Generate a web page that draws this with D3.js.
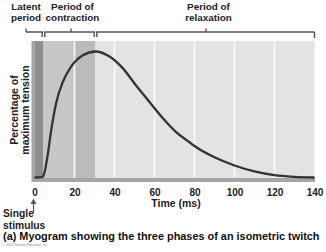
<!DOCTYPE html>
<html>
<head>
<meta charset="UTF-8">
<script src="https://d3js.org/d3.v7.min.js"></script>
<style>
  * { margin: 0; padding: 0; }
  body { background: #fff; width: 326px; height: 252px; overflow: hidden; }
  svg { display: block; font-family: 'Liberation Sans', Arial, Helvetica, sans-serif; font-weight: bold; }
</style>
</head>
<body>
<svg id="chart" width="326" height="252"></svg>
<script>
// curve (ms, % of max tension)
const timeMs  = [0, 4, 5, 6.7, 8.3, 10.8, 14.2, 18.3, 24.2, 30.5, 37.5, 44.2, 50.8, 57.5, 64.2, 70.8, 77.5, 80, 90, 100, 110, 120, 130, 140];
const tension = [0, 0.3, 4, 19, 37, 59, 76, 88, 97, 100, 96, 86.6, 73, 60, 47, 36, 28, 25, 16, 9.5, 4.8, 1.8, 0.5, 0];

const xTicks = [0, 20, 40, 60, 80, 100, 120, 140];
const gridMs = [40, 60, 80, 100, 120];

// phase bands
const phaseStart = [0, 4.5, 20, 30.5];
const phaseEnd   = [4.5, 20, 30.5, 140];
const phaseFill  = ['#8e8e8e', '#c7c7c7', '#bbbbbb', '#e3e3e3'];
const bracketLabels = [['Latent', 'period'], ['Period of', 'contraction'], ['Period of', 'relaxation']];
const bracketMid = [-4.25, 18.25, 85.75];
const bracketLabelX = [-4.25, 19, 87];
const bracketBreaks = [4.5, 30.5];

(function() {
  const svg = d3.select('#chart');
  const x = d3.scaleLinear().domain([0, 140]).range([34.5, 314.5]);
  const y = d3.scaleLinear().domain([0, 100]).range([177.5, 51.5]);
  const top = 41, bottom = 178;

  // background bands
  svg.append('rect').attr('x', 31.5).attr('y', top).attr('width', 3).attr('height', bottom - top).attr('fill', '#a3a3a3');
  svg.append('g').selectAll('rect')
    .data(phaseStart)
    .join('rect')
    .attr('x', (d, i) => x(d))
    .attr('y', top)
    .attr('width', (d, i) => x(phaseEnd[i]) - x(d))
    .attr('height', bottom - top)
    .attr('fill', (d, i) => phaseFill[i]);

  // white separators
  svg.append('g').selectAll('line')
    .data([20].concat(gridMs))
    .join('line')
    .attr('x1', d => x(d)).attr('x2', d => x(d))
    .attr('y1', top).attr('y2', bottom)
    .attr('stroke', '#fafafa').attr('stroke-width', 1.6);

  // bottom axis bar
  svg.append('rect').attr('x', 31.5).attr('y', 178).attr('width', x(140) - 31.5 + 0.5).attr('height', 4).attr('fill', '#a5a5a5');

  // the twitch
  const line = d3.line().x((d, i) => x(timeMs[i])).y(d => y(d)).curve(d3.curveMonotoneX);
  svg.append('path')
    .attr('d', line(tension))
    .attr('fill', 'none')
    .attr('stroke', '#333')
    .attr('stroke-width', 2.3);

  // x axis ticks
  const axis = d3.axisBottom(x).tickValues(xTicks).tickSize(0).tickPadding(0);
  const ax = svg.append('g').attr('transform', 'translate(0,189)').call(axis);
  ax.select('.domain').remove();
  ax.selectAll('text')
    .attr('font-family', "'Liberation Sans', Arial, sans-serif")
    .attr('font-weight', 'bold')
    .attr('font-size', 10)
    .attr('fill', '#222');

  svg.append('text')
    .attr('x', 176).attr('y', 207)
    .attr('text-anchor', 'middle')
    .attr('font-size', 10.5).attr('fill', '#222')
    .text('Time (ms)');

  // y axis title
  const yt = svg.append('text')
    .attr('transform', 'translate(0,110) rotate(-90)')
    .attr('text-anchor', 'middle')
    .attr('font-size', 10.5).attr('fill', '#222');
  yt.append('tspan').attr('x', 0).attr('y', 18).text('Percentage of');
  yt.append('tspan').attr('x', 0).attr('y', 29).text('maximum tension');

  // bracket over the phases
  const by = 32;
  const br = svg.append('g').attr('stroke', '#555').attr('stroke-width', 1.4).attr('fill', 'none');
  br.append('line').attr('x1', x(-4.25)).attr('x2', x(140)).attr('y1', by).attr('y2', by);
  bracketMid.forEach(m => {
    br.append('line').attr('x1', x(m)).attr('x2', x(m)).attr('y1', by - 3.5).attr('y2', by);
  });
  bracketBreaks.forEach(b => {
    [-0.65, 0.65].forEach(o => {
      br.append('line').attr('x1', x(b + o)).attr('x2', x(b + o)).attr('y1', by).attr('y2', by + 5);
    });
    br.append('line').attr('x1', x(b - 0.2)).attr('x2', x(b + 0.2)).attr('y1', by).attr('y2', by).attr('stroke', '#fff').attr('stroke-width', 2);
  });
  br.append('line').attr('x1', x(140)).attr('x2', x(140)).attr('y1', by).attr('y2', by + 6);

  bracketLabels.forEach((lines, i) => {
    const t = svg.append('text')
      .attr('text-anchor', 'middle')
      .attr('font-size', 9.9).attr('fill', '#222');
    lines.forEach((s, j) => {
      t.append('tspan').attr('x', x(bracketLabelX[i])).attr('y', 10 + j * 11).text(s);
    });
  });

  // stimulus arrow
  svg.append('line').attr('x1', 33.5).attr('x2', 33.5).attr('y1', 202).attr('y2', 212)
    .attr('stroke', '#555').attr('stroke-width', 1.2);
  svg.append('path').attr('d', 'M30.5,204 L33.5,198.5 L36.5,204 Z').attr('fill', '#555');

  const st = svg.append('text').attr('font-size', 10.3).attr('fill', '#222');
  st.append('tspan').attr('x', 3).attr('y', 217).text('Single');
  st.append('tspan').attr('x', 3).attr('y', 228.5).text('stimulus');

  svg.append('text')
    .attr('x', 3).attr('y', 240)
    .attr('font-size', 10.9).attr('fill', '#111')
    .text('(a) Myogram showing the three phases of an isometric twitch');

  svg.append('text')
    .attr('x', 3).attr('y', 245.5)
    .attr('font-size', 3.2).attr('font-weight', 'normal').attr('fill', '#888')
    .text('© 2013 Pearson Education, Inc.');
})();
</script>
</body>
</html>
